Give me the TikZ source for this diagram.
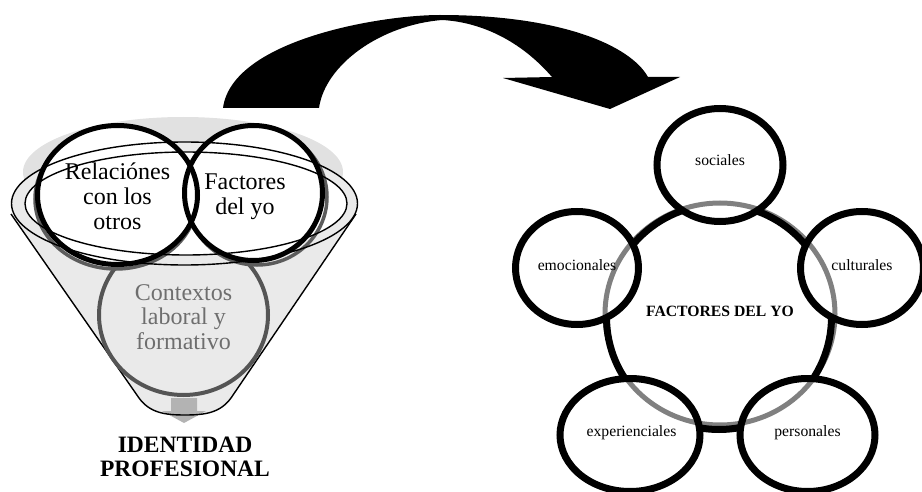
\documentclass[tikz,border=0pt]{standalone}
\usepackage{fontspec}
\setmainfont{Liberation Serif}
\definecolor{backgray}{HTML}{E1E1E1}
\definecolor{conegray}{HTML}{EAEAEA}
\definecolor{ringgray}{HTML}{5C5C5C}
\definecolor{ctxgray}{HTML}{555555}
\definecolor{ctxtext}{HTML}{6E6E6E}
\definecolor{arrowgray}{HTML}{B3B3B3}
\definecolor{cyclegray}{HTML}{808080}
\begin{document}
\begin{tikzpicture}[x=1pt,y=-1pt,
  rim/.style={draw=black,line width=1.4pt},
  topring/.style={draw=black,line width=5pt},
  shadowring/.style={draw=ringgray,line width=3.5pt},
  outerring/.style={draw=black,line width=7pt},
  flbl/.style={align=center,inner sep=0pt,font=\fontsize{24}{24.8}\selectfont},
  clbl/.style={inner sep=0pt,anchor=base,font=\fontsize{15.7}{18}\selectfont}]
\useasboundingbox (0,0) rectangle (922,492);

% ---------- funnel ----------
\coordinate (rimc) at (184.5,203.5);
\coordinate (innc) at (186,203.5);
\coordinate (relc) at (117.5,195);
\coordinate (facc) at (253.5,193);
\coordinate (ctxc) at (183.5,315);

% back face of the funnel mouth
\fill[backgray] (183,172) ellipse [x radius=160pt, y radius=55pt];
% funnel body
\fill[conegray] (11,214) -- (139,398) .. controls (150,413) and (165,415) .. (185,415)
  .. controls (205,415) and (220,413) .. (231,398) -- (356,214) -- cycle;
\fill[conegray] (rimc) ellipse [x radius=173pt, y radius=61.5pt];
% small outlet arrow
\fill[arrowgray] (171,398) -- (197,398) -- (197,411) -- (206,411) -- (184,423)
  -- (162,411) -- (171,411) -- cycle;
\draw[rim] (11,214) -- (139,398) .. controls (150,413) and (165,415) .. (185,415)
  .. controls (205,415) and (220,413) .. (231,398) -- (356,214);
% lower circle
\draw[ctxgray,fill=conegray,line width=4pt] (ctxc) ellipse [x radius=84.5pt, y radius=80pt];
% mouth opening
\fill[white] (innc) ellipse [x radius=161pt, y radius=51.5pt];
% grey rings behind the two upper circles
\draw[shadowring] (116,199) ellipse [x radius=81pt, y radius=70pt];
\draw[shadowring] (257,197) ellipse [x radius=70pt, y radius=68pt];
% upper circles
\fill[white] (relc) ellipse [x radius=80pt, y radius=69.5pt];
\fill[white] (facc) ellipse [x radius=69pt, y radius=67.5pt];
\draw[rim] (rimc) ellipse [x radius=173pt, y radius=61.5pt];
\draw[rim] (innc) ellipse [x radius=161pt, y radius=51.5pt];
\draw[topring] (relc) ellipse [x radius=80pt, y radius=69.5pt];
\draw[topring] (facc) ellipse [x radius=69pt, y radius=67.5pt];

\node[flbl] (rel) at (117.5,196) {Relaciónes\\con los\\otros};
\node[flbl] (fac) at (245,197) {Factores\\del yo};
\node[flbl,text=ctxtext] (ctx) at (183.5,317) {Contextos\\laboral y\\formativo};
\node[align=center,inner sep=0pt,font=\bfseries\fontsize{23.5}{24.3}\selectfont] (ident) at (185,457)
  {IDENTIDAD\\PROFESIONAL};

% ---------- curved arrow ----------
\fill[black] (223,108) .. controls (232,40) and (380,15) .. (440,15)
  .. controls (560,15) and (630,45) .. (648,77) -- (680,77) -- (610,109)
  -- (503,78) -- (552,77) .. controls (520,40) and (480,22) .. (442,20)
  .. controls (380,25) and (325,65) .. (319,108) -- cycle;

% ---------- cycle of factors ----------
\coordinate (cs) at (720,165);
\coordinate (ce) at (577,268);
\coordinate (cc) at (862,268);
\coordinate (cx) at (630,435);
\coordinate (cp) at (807.5,435);

\draw[cyclegray,line width=5pt] (720,314) ellipse [x radius=115pt, y radius=111pt];
\begin{scope}[even odd rule]
  \clip (0,0) rectangle (922,492)
    (cs) ellipse [x radius=63pt, y radius=56.5pt]
    (ce) ellipse [x radius=61.5pt, y radius=56.5pt]
    (cc) ellipse [x radius=61.5pt, y radius=56.5pt]
    (cx) ellipse [x radius=70pt, y radius=56.5pt]
    (cp) ellipse [x radius=67.5pt, y radius=56.5pt];
  \draw[line width=7pt] (719,317) circle [radius=112.5pt];
\end{scope}
\draw[outerring] (cs) ellipse [x radius=63pt, y radius=56.5pt];
\draw[outerring] (ce) ellipse [x radius=61.5pt, y radius=56.5pt];
\draw[outerring] (cc) ellipse [x radius=61.5pt, y radius=56.5pt];
\draw[outerring] (cx) ellipse [x radius=70pt, y radius=56.5pt];
\draw[outerring] (cp) ellipse [x radius=67.5pt, y radius=56.5pt];

\node[clbl] (soc) at (720,166) {sociales};
\node[clbl] (emo) at (577,270) {emocionales};
\node[clbl] (cul) at (862,270) {culturales};
\node[clbl] (exp) at (631.5,436.5) {experienciales};
\node[clbl] (per) at (807.5,436.5) {personales};
\node[clbl,font=\bfseries\fontsize{15.7}{18}\selectfont] (fyo) at (720,316) {FACTORES DEL YO};
\end{tikzpicture}
\end{document}
